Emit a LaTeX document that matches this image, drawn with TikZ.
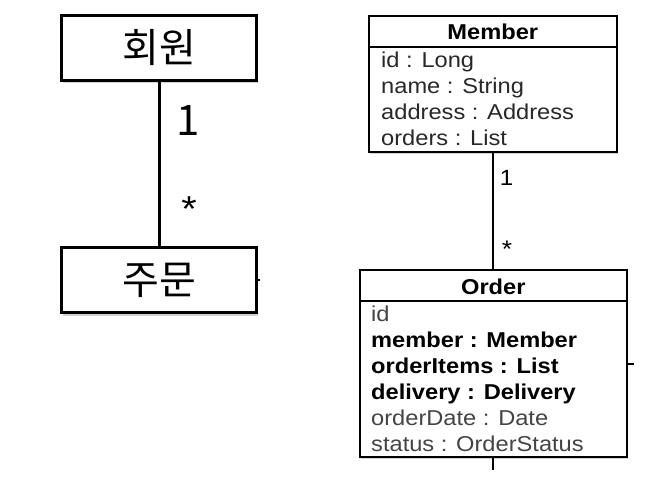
\documentclass[tikz,border=0pt]{standalone}
\usepackage{fontspec}
\setmainfont{Liberation Sans}[FakeStretch=1.1]
\newfontfamily\kr{Noto Sans CJK KR}
\usetikzlibrary{shadows}
\definecolor{attrgray}{HTML}{282828}
\definecolor{lightgray}{HTML}{444444}
\tikzset{
  krbox/.style={draw=black, line width=3pt, fill=white, inner sep=0pt,
    minimum width=195pt, font=\kr\fontsize{40}{44}\selectfont,
    drop shadow={shadow xshift=1pt, shadow yshift=-3pt, opacity=0.35}},
  umlbox/.style={draw=black, line width=2pt, fill=white, inner sep=0pt,
    drop shadow={shadow xshift=1pt, shadow yshift=-2pt, opacity=0.35}},
  krlink/.style={line width=3pt},
  umllink/.style={line width=2pt},
  attr/.style={anchor=base west, inner sep=0pt, font=\fontsize{21.5}{24}\selectfont, text=attrgray},
  attrlight/.style={attr, text=lightgray},
  attrbold/.style={attr, text=black, font=\fontsize{21.5}{24}\selectfont\bfseries},
  title/.style={anchor=base, inner sep=0pt, font=\fontsize{21.5}{24}\selectfont\bfseries},
  krmult/.style={inner sep=0pt, font=\kr\fontsize{42}{46}\selectfont},
  mult/.style={inner sep=0pt, font=\fontsize{22}{24}\selectfont}
}
\begin{document}
\begin{tikzpicture}[x=1pt, y=-1pt]
\useasboundingbox[fill=white] (0,0) rectangle (650,490);
% left diagram
\node[krbox, minimum height=65pt] (kmem) at (159.2,47.5) {회원};
\node[krbox, minimum height=65.7pt] (kord) at (159.2,280) {주문};
\draw[krlink] (kmem.south) -- (kord.north);
\node[krmult] (k1) at (188,121) {1};
\node[anchor=base, inner sep=0pt, font=\fontsize{36}{40}\selectfont] (kstar) at (189,221) {*};
\coordinate (kstub) at (259.5,280);
\draw[line width=2pt] (kord.east |- kstub) -- (kstub);
% right diagram
\node[umlbox, minimum width=247.7pt, minimum height=135.7pt] (mem) at (492.8,83.8) {};
\draw[line width=1.6pt] (mem.west |- 0,46.7) -- (mem.east |- 0,46.7);
\node[title] (memt) at (492.8,39.3) {Member};
\node[attr] (m1) at (381,67.7) {id : Long};
\node[attr] (m2) at (381,93.7) {name : String};
\node[attr] (m3) at (381,119.7) {address : Address};
\node[attr] (m4) at (381,145.7) {orders : List};

\node[umlbox, minimum width=266.7pt, minimum height=187pt] (ord) at (493.3,363.5) {};
\draw[line width=1.6pt] (ord.west |- 0,300.7) -- (ord.east |- 0,300.7);
\node[title] (ordt) at (493.3,294.3) {Order};
\node[attrlight] (o1) at (371,321.7) {id};
\node[attrbold] (o2) at (371,347.7) {member : Member};
\node[attrbold] (o3) at (371,373.7) {orderItems : List};
\node[attrbold] (o4) at (371,399.7) {delivery : Delivery};
\node[attrlight] (o5) at (371,425.7) {orderDate : Date};
\node[attrlight] (o6) at (371,451.7) {status : OrderStatus};

\draw[umllink] (mem.south) -- (mem.south |- ord.north);
\node[mult] (r1) at (506.7,178) {1};
\node[anchor=base, inner sep=0pt, font=\fontsize{24}{26}\selectfont] (rstar) at (507,257) {*};
\coordinate (rstub) at (634,364);
\draw[umllink] (ord.east |- rstub) -- (rstub);
\coordinate (bstub) at (493.3,470);
\draw[umllink] (ord.south) -- (bstub);
\end{tikzpicture}
\end{document}
